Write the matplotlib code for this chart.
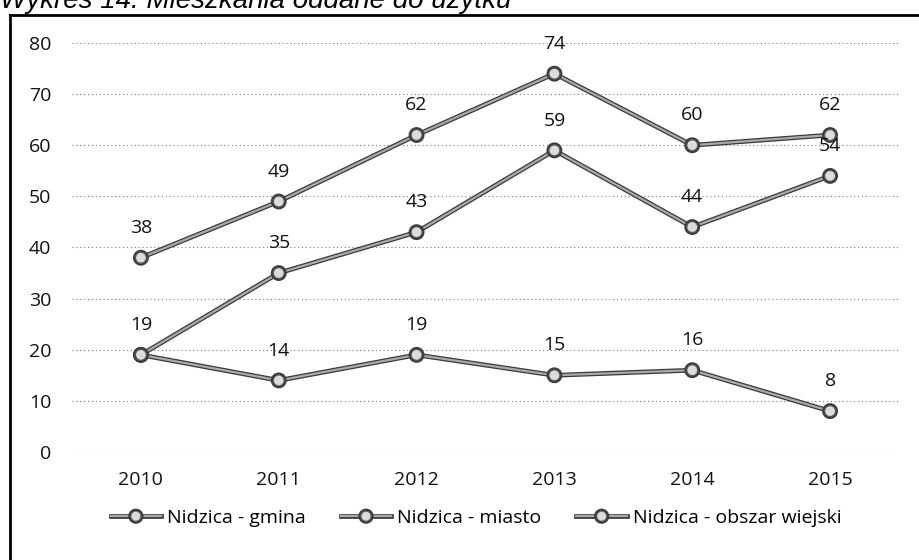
import matplotlib
matplotlib.use("Agg")
import matplotlib.pyplot as plt
import matplotlib.patheffects as pe
from matplotlib.lines import Line2D

plt.rcParams['font.family'] = ['Open Sans', 'DejaVu Sans']

# dane
lata = ["2010", "2011", "2012", "2013", "2014", "2015"]
gmina = [38, 49, 62, 74, 60, 62]
miasto = [19, 35, 43, 59, 44, 54]
wiejski = [19, 14, 19, 15, 16, 8]
nazwy = ["Nidzica - gmina", "Nidzica - miasto", "Nidzica - obszar wiejski"]

W, H = 919, 560
fig = plt.figure(figsize=(W / 100, H / 100), dpi=100)
ax = fig.add_axes([72 / W, 1 - 452 / H, (899 - 72) / W, (452 - 43) / H])

x = list(range(len(lata)))
efekt = [pe.Stroke(linewidth=3.4, foreground='#3a3a3a'), pe.Normal()]

for seria, nazwa in zip([gmina, miasto, wiejski], nazwy):
    ax.plot(x, seria, color='#aaaaaa', linewidth=1.6, marker='o', markersize=8,
            markerfacecolor='#dcdcdc', markeredgecolor='#555555', markeredgewidth=1.0,
            path_effects=efekt, label=nazwa, zorder=3)

# etykiety danych (w 2010 miasto i wiejski mają tę samą wartość - jedna etykieta)
for seria, pomin in [(gmina, None), (miasto, 0), (wiejski, None)]:
    for i, v in enumerate(seria):
        if i == pomin:
            continue
        ax.annotate(str(v), (i, v), xytext=(0, 15), textcoords='offset points',
                    ha='center', va='bottom', fontsize=14, color='#111111')

ax.set_xlim(-0.5, len(lata) - 0.5)
ax.set_ylim(0, 80)
ax.set_yticks(range(0, 81, 10))
ax.set_xticks(x)
ax.set_xticklabels(lata)
ax.tick_params(length=0, labelsize=14, colors='#111111')
ax.tick_params(axis='y', pad=15)
ax.tick_params(axis='x', pad=14)
ax.grid(axis='y', linestyle=(0, (1, 2.5)), color='#777777', linewidth=0.8)
ax.set_axisbelow(True)
for s in ax.spines.values():
    s.set_visible(False)

# legenda
uchwyty = [Line2D([0], [0], color='#aaaaaa', linewidth=1.6, marker='o', markersize=7.5,
                  markerfacecolor='#dcdcdc', markeredgecolor='#555555',
                  path_effects=efekt) for _ in nazwy]
fig.legend(uchwyty, nazwy, loc='center', bbox_to_anchor=(476 / W, 1 - 518 / H), ncol=3,
           frameon=False, fontsize=14, handlelength=2.6, handletextpad=0.3,
           columnspacing=1.8)

# ramka (wychodzi poza obraz z prawej i na dole)
fig.add_artist(Line2D([10 / W, 10 / W], [-0.1, 1 - 15 / H], color='black',
                      linewidth=2, transform=fig.transFigure))
fig.add_artist(Line2D([10 / W, 1.1], [1 - 15 / H, 1 - 15 / H], color='black',
                      linewidth=2, transform=fig.transFigure))

# tytuł ucięty u góry
fig.text(0.0, 1 - 8 / H, "Wykres 14. Mieszkania oddane do użytku", fontsize=20,
         style='italic', family=['Liberation Sans', 'DejaVu Sans'], va='baseline',
         ha='left')

fig.savefig("out.png", dpi=100)
